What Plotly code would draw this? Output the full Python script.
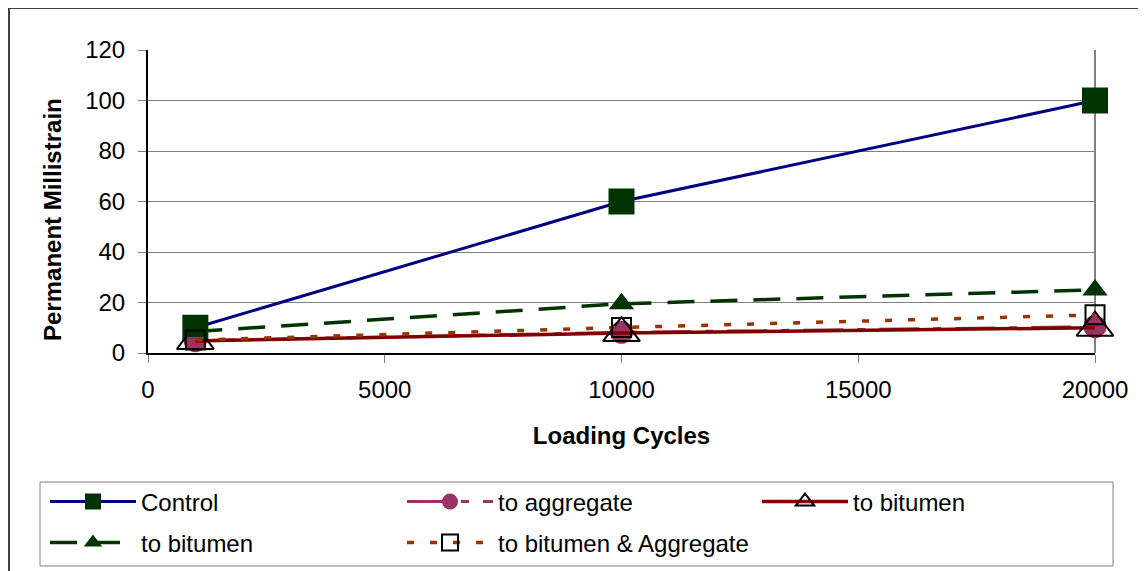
import plotly.graph_objects as go

# ---- data ----
loading_cycles = [1000, 10000, 20000]
control = [10, 60, 100]
to_aggregate = [4.9, 8.2, 10.4]
to_bitumen_red = [4.8, 7.9, 10.0]
to_bitumen_green = [8.5, 19.5, 25]
to_bitumen_aggregate = [5.1, 10.1, 15.1]

series_names = ["Control", "to aggregate", "to bitumen", "to bitumen", "to bitumen & Aggregate"]

x_ticks = [0, 5000, 10000, 15000, 20000]
y_ticks = [0, 20, 40, 60, 80, 100, 120]

FONT = "Liberation Sans, Arial, sans-serif"
FS = 24

# page has an 8px body margin; figure geometry is expressed in page pixels
OFF = 8
W, H = 1146 - OFF, 571 - OFF
PLOT_LEFT, PLOT_RIGHT, PLOT_TOP, PLOT_BOTTOM = 148, 1095, 50, 353
L = PLOT_LEFT - OFF
T = PLOT_TOP - OFF
R = W - (PLOT_RIGHT - OFF)
B = H - (PLOT_BOTTOM - OFF)
PW = PLOT_RIGHT - PLOT_LEFT
PH = PLOT_BOTTOM - PLOT_TOP


def px_x(p):
    return (p - PLOT_LEFT) / PW


def px_y(p):
    return (PLOT_BOTTOM - p) / PH


fig = go.Figure()

fig.add_trace(go.Scatter(
    x=loading_cycles, y=control, name=series_names[0], legend="legend",
    mode="lines+markers", cliponaxis=False,
    line=dict(color="#000080", width=3),
    marker=dict(symbol="square", size=26, color="#003300", line=dict(width=0)),
))
fig.add_trace(go.Scatter(
    x=loading_cycles, y=to_aggregate, name=series_names[1], legend="legend2",
    mode="lines+markers", cliponaxis=False,
    line=dict(color="#993366", width=3, dash="40px,14px,8px,14px"),
    marker=dict(symbol="circle", size=23, color="#993366", line=dict(width=0)),
))
fig.add_trace(go.Scatter(
    x=loading_cycles, y=to_bitumen_red, name=series_names[2], legend="legend3",
    mode="lines+markers", cliponaxis=False,
    line=dict(color="#800000", width=3.5),
    marker=dict(symbol="triangle-up-open", size=32, color="#000000", line=dict(width=2, color="#000000")),
))
fig.add_trace(go.Scatter(
    x=loading_cycles, y=to_bitumen_green, name=series_names[3], legend="legend4",
    mode="lines+markers", cliponaxis=False,
    line=dict(color="#003300", width=3.5, dash="27px,16px"),
    marker=dict(symbol="triangle-up", size=22, color="#003300", line=dict(width=0)),
))
fig.add_trace(go.Scatter(
    x=loading_cycles, y=to_bitumen_aggregate, name=series_names[4], legend="legend5",
    mode="lines+markers", cliponaxis=False,
    line=dict(color="#993300", width=3.5, dash="7px,16px"),
    marker=dict(symbol="square-open", size=19, color="#000000", line=dict(width=2, color="#000000")),
))

legend_common = dict(
    orientation="h", xanchor="left", yanchor="middle",
    bgcolor="rgba(0,0,0,0)", borderwidth=0,
    font=dict(family=FONT, size=FS, color="#000000"),
    itemwidth=86, itemclick=False, itemdoubleclick=False,
)

fig.update_layout(
    width=W, height=H,
    margin=dict(l=L, r=R, t=T, b=B, autoexpand=False),
    paper_bgcolor="#ffffff", plot_bgcolor="#ffffff",
    font=dict(family=FONT, size=FS, color="#000000"),
    xaxis=dict(
        range=[0, 20000], tickvals=x_ticks, ticktext=[str(v) for v in x_ticks],
        showgrid=False, zeroline=False,
        showline=True, linecolor="#000000", linewidth=2,
        ticks="outside", ticklen=8, tickcolor="#808080", tickwidth=1,
        ticklabelstandoff=6,
        tickfont=dict(family=FONT, size=FS, color="#000000"),
        title=dict(text="<b>Loading Cycles</b>", font=dict(family=FONT, size=FS), standoff=25),
        automargin=False,
    ),
    yaxis=dict(
        range=[0, 120], tickvals=y_ticks, ticktext=[str(v) for v in y_ticks],
        showgrid=True, gridcolor="#808080", gridwidth=1, zeroline=False,
        showline=True, linecolor="#000000", linewidth=2,
        ticks="outside", ticklen=8, tickcolor="#808080", tickwidth=1,
        ticklabelstandoff=8,
        tickfont=dict(family=FONT, size=FS, color="#000000"),
        automargin=False,
    ),
    annotations=[
        dict(text="<b>Permanent Millistrain</b>", textangle=-90, showarrow=False,
             xref="paper", yref="paper", x=px_x(52), y=px_y(220),
             xanchor="center", yanchor="middle",
             font=dict(family=FONT, size=FS, color="#000000")),
    ],
    showlegend=True,
    legend=dict(legend_common, x=px_x(45), y=px_y(502)),
    legend2=dict(legend_common, x=px_x(402), y=px_y(502)),
    legend3=dict(legend_common, x=px_x(757), y=px_y(502)),
    legend4=dict(legend_common, x=px_x(45), y=px_y(543)),
    legend5=dict(legend_common, x=px_x(402), y=px_y(543)),
    shapes=[
        # outer chart border
        dict(type="rect", xref="paper", yref="paper", layer="below",
             x0=px_x(9), x1=px_x(1170), y0=px_y(600), y1=px_y(8),
             line=dict(color="#404040", width=2), fillcolor="rgba(0,0,0,0)"),
        # legend box
        dict(type="rect", xref="paper", yref="paper", layer="below",
             x0=px_x(40), x1=px_x(1113), y0=px_y(566), y1=px_y(482),
             line=dict(color="#808080", width=1), fillcolor="rgba(0,0,0,0)"),
        # plot area right border
        dict(type="line", xref="paper", yref="paper", layer="below",
             x0=1, x1=1, y0=0, y1=1, line=dict(color="#808080", width=2)),
    ],
)

fig.write_html("out.html")
